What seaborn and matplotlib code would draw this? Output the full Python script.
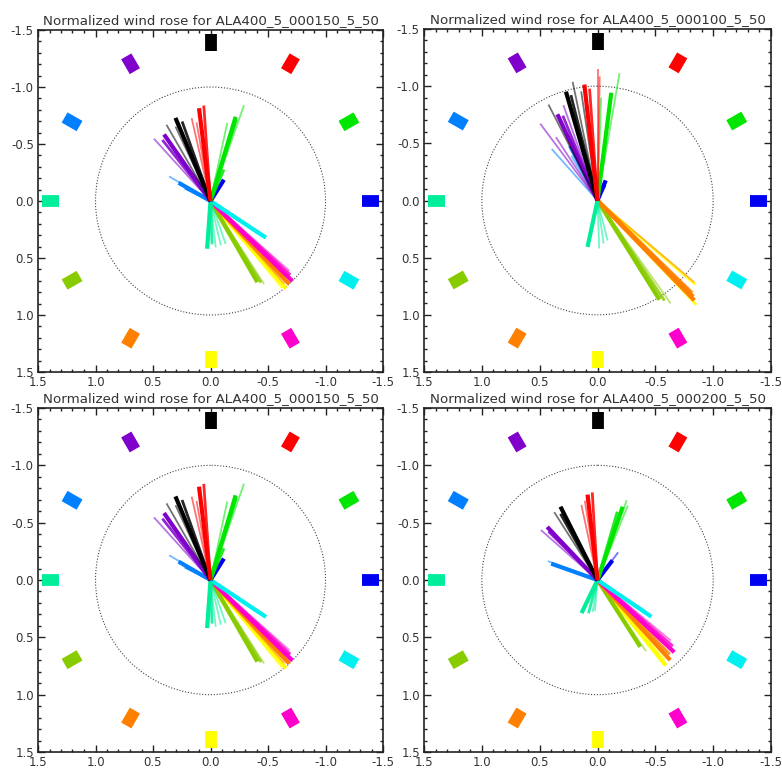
import numpy as np
import pandas as pd
import matplotlib
matplotlib.use("Agg")
import matplotlib.pyplot as plt
import seaborn as sns
from matplotlib.ticker import MultipleLocator, FormatStrFormatter

# Twelve direction sectors, clockwise from the top, and their colours
SECTOR_ANGLES = [0, 30, 60, 90, 120, 150, 180, 210, 240, 270, 300, 330]
SECTOR_COLORS = ["#000000", "#ff0000", "#00e600", "#0000f0", "#00f0f0", "#ff00cc",
                 "#ffff00", "#ff7f00", "#88cc00", "#00ee99", "#0080ff", "#8000cc"]
SECTOR_R_IN, SECTOR_R_OUT = 1.315, 1.465
# order in which the sector colours are laid down (later ones sit on top)
DRAW_ORDER = [6, 8, 7, 5, 4, 9, 3, 2, 10, 11, 0, 1]

TITLES = ["Normalized wind rose for ALA400_5_000150_5_50",
          "Normalized wind rose for ALA400_5_000100_5_50",
          "Normalized wind rose for ALA400_5_000150_5_50",
          "Normalized wind rose for ALA400_5_000200_5_50"]

# Rays per run: sector index, direction (deg clockwise from top), normalized length, weight
# (weight 2 = main ray, 1 = secondary, 0 = faint)
RUN150_SECTOR = [1, 1, 1, 1, 0, 0, 0, 0, 11, 11, 11, 10, 10, 10, 2, 2, 2, 2, 2, 3, 3,
                 4, 4, 5, 5, 5, 7, 7, 7, 6, 6, 8, 8, 8, 9, 9, 9, 9, 9]
RUN150_ANGLE = [-7, -4, -12.7, -10, -22.7, -19.5, -29.8, -25, -34.7, -42, -38, -59, -60, -63,
                16.5, 19.1, 12, 17.5, 23, 32, 28,
                123.7, 125, 134.6, 131.8, 133, 136.8, 135.5, 138.5, 139.6, 141,
                150.2, 147.4, 148.5, 184, 173.7, 167, 160.7, 178]
RUN150_LENGTH = [0.82, 0.84, 0.745, 0.70, 0.79, 0.74, 0.77, 0.72, 0.71, 0.735, 0.68,
                 0.42, 0.32, 0.25, 0.77, 0.89, 0.70, 0.75, 0.30, 0.22, 0.16,
                 0.58, 0.50, 1.0, 0.92, 0.95, 1.0, 0.93, 0.97, 1.01, 0.98,
                 0.82, 0.865, 0.84, 0.42, 0.41, 0.40, 0.40, 0.38]
RUN150_WEIGHT = [2, 1, 0, 0, 2, 1, 0, 0, 2, 0, 1, 0, 2, 1, 2, 0, 0, 1, 1, 2, 1,
                 2, 0, 2, 0, 1, 2, 1, 0, 2, 0, 2, 0, 1, 2, 0, 0, 0, 1]

RUN100_SECTOR = [1, 1, 1, 1, 0, 0, 0, 0, 0, 11, 11, 11, 11, 11, 10, 10, 10, 2, 2, 2, 3, 3,
                 7, 7, 7, 7, 6, 6, 8, 8, 8, 9, 9, 9, 9]
RUN100_ANGLE = [0, 1, -6.4, -4, -11.7, -16, -8.4, -26.8, -14, -24.7, -19.5, -36.4, -33, -22,
                -41.3, -27, -30, 7.2, 9.7, 2, 22, 26,
                130.5, 135.5, 134.5, 136.2, 136.9, 131, 148.3, 144.9, 146.5,
                192, 178, 166, 172]
RUN100_LENGTH = [1.15, 1.085, 1.02, 0.98, 1.06, 0.99, 0.965, 0.94, 0.95, 0.83, 0.885, 0.835,
                 0.66, 0.80, 0.60, 0.535, 0.45, 0.95, 1.13, 0.90, 0.19, 0.15,
                 1.10, 1.18, 1.15, 1.21, 1.25, 1.12, 1.02, 1.10, 1.05,
                 0.415, 0.42, 0.36, 0.38]
RUN100_WEIGHT = [0, 0, 2, 1, 0, 2, 0, 0, 1, 2, 0, 0, 0, 1, 0, 1, 0, 2, 0, 0, 2, 1,
                 0, 2, 1, 2, 1, 1, 2, 0, 1, 2, 0, 0, 0]

RUN200_SECTOR = [1, 1, 1, 1, 0, 0, 0, 11, 11, 11, 10, 10, 2, 2, 2, 2, 3, 3,
                 4, 4, 5, 5, 5, 7, 7, 6, 6, 8, 8, 9, 9, 9, 9]
RUN200_ANGLE = [-6.6, -3.4, -12, -9, -26.6, -32.3, -29, -43.2, -48.3, -45, -70.4, -69,
                18.8, 20, 16, 22, 37, 36.5,
                124.5, 123, 133.5, 129.8, 131.5, 138, 136, 141.6, 140, 147.6, 146,
                205.6, 188.5, 184.7, 195]
RUN200_LENGTH = [0.75, 0.765, 0.67, 0.70, 0.715, 0.70, 0.66, 0.635, 0.655, 0.60, 0.425, 0.46,
                 0.675, 0.74, 0.62, 0.70, 0.215, 0.30,
                 0.565, 0.50, 0.915, 0.825, 0.87, 0.94, 0.90, 0.95, 0.90, 0.69, 0.75,
                 0.32, 0.283, 0.27, 0.30]
RUN200_WEIGHT = [2, 1, 0, 0, 2, 0, 1, 2, 0, 1, 2, 0, 2, 0, 1, 0, 2, 0,
                 2, 0, 2, 0, 1, 2, 1, 2, 0, 2, 0, 2, 0, 0, 1]

RUNS = [(RUN150_SECTOR, RUN150_ANGLE, RUN150_LENGTH, RUN150_WEIGHT),
        (RUN100_SECTOR, RUN100_ANGLE, RUN100_LENGTH, RUN100_WEIGHT),
        (RUN150_SECTOR, RUN150_ANGLE, RUN150_LENGTH, RUN150_WEIGHT),
        (RUN200_SECTOR, RUN200_ANGLE, RUN200_LENGTH, RUN200_WEIGHT)]

# Axes boxes in figure pixels: left, top, right, bottom
W, H = 782, 769
BOXES = [(38, 30, 383, 372), (424, 29, 771, 372), (38, 408, 383, 752), (424, 408, 771, 752)]

sns.set_style("ticks")
plt.rcParams["font.family"] = ["DejaVu Sans"]
plt.rcParams["axes.unicode_minus"] = False
TEXT = "#333333"

palette = {i: c for i, c in enumerate(SECTOR_COLORS)}
STYLE = {0: dict(lw=1.3, alpha=0.55), 1: dict(lw=2.0, alpha=0.85), 2: dict(lw=3.0, alpha=1.0)}


def to_xy(angle_deg, r):
    a = np.deg2rad(np.asarray(angle_deg, dtype=float))
    return -r * np.sin(a), -r * np.cos(a)


def segments(sector, angle, r0, r1):
    rows = []
    for k, (s, a, a0, a1) in enumerate(zip(sector, angle, r0, r1)):
        x0, y0 = to_xy(a, a0)
        x1, y1 = to_xy(a, a1)
        rows.append((k, s, x0, y0, 0))
        rows.append((k, s, x1, y1, 1))
    return pd.DataFrame(rows, columns=["seg", "sector", "x", "y", "end"])


fig = plt.figure(figsize=(W / 100, H / 100), dpi=100)

for (sector, angle, length, weight), title, (l, t, r, b) in zip(RUNS, TITLES, BOXES):
    ax = fig.add_axes([l / W, 1 - b / H, (r - l) / W, (b - t) / H])

    # sector markers
    mk = segments(list(range(12)), SECTOR_ANGLES, [SECTOR_R_IN] * 12, [SECTOR_R_OUT] * 12)
    sns.lineplot(data=mk, x="x", y="y", units="seg", hue="sector", palette=palette,
                 estimator=None, sort=False, lw=8.5, solid_capstyle="butt",
                 legend=False, ax=ax)

    # unit circle
    ax.add_patch(plt.Circle((0, 0), 1.0, fill=False, ls=(0, (1, 1.6)), lw=0.8,
                            color="#444444"))

    # wind rays, sector by sector, faint rays under the main ones
    rays = segments(sector, angle, [0.0] * len(angle), length)
    rays["weight"] = np.repeat(weight, 2)
    for s in DRAW_ORDER:
        for w in (0, 1, 2):
            sub = rays[(rays["sector"] == s) & (rays["weight"] == w)]
            if len(sub):
                sns.lineplot(data=sub, x="x", y="y", units="seg", hue="sector",
                             palette=palette, estimator=None, sort=False, legend=False,
                             ax=ax, solid_capstyle="butt", **STYLE[w])

    ax.set_xlim(1.5, -1.5)
    ax.set_ylim(1.5, -1.5)
    ax.set_xlabel("")
    ax.set_ylabel("")
    ax.xaxis.set_major_locator(MultipleLocator(0.5))
    ax.yaxis.set_major_locator(MultipleLocator(0.5))
    ax.xaxis.set_minor_locator(MultipleLocator(0.1))
    ax.yaxis.set_minor_locator(MultipleLocator(0.1))
    ax.xaxis.set_major_formatter(FormatStrFormatter("%.1f"))
    ax.yaxis.set_major_formatter(FormatStrFormatter("%.1f"))
    ax.tick_params(which="both", direction="in", top=True, right=True, color="#222222",
                   width=1.0, labelsize=8.5, labelcolor=TEXT, pad=3)
    ax.tick_params(which="major", length=5)
    ax.tick_params(which="minor", length=2.5)
    for sp in ax.spines.values():
        sp.set_color("#222222")
        sp.set_linewidth(1.2)
    ax.set_title(title, fontsize=9.6, color=TEXT, pad=4)

fig.savefig("out.png", dpi=100)
